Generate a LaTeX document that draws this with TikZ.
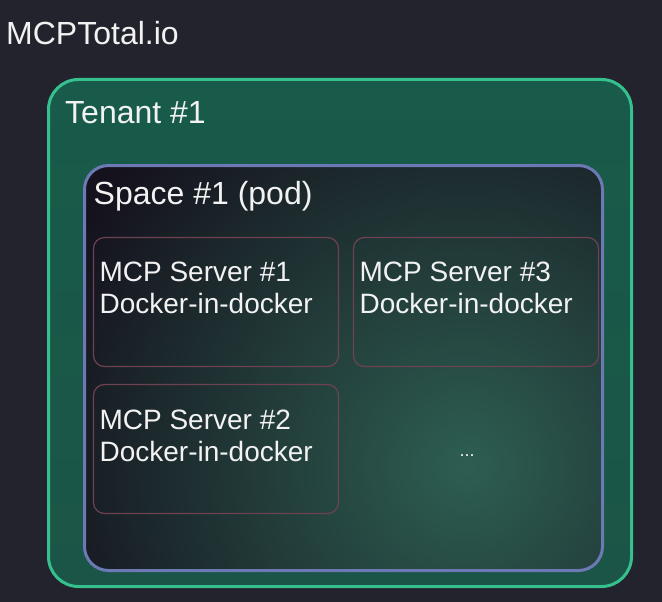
\documentclass[tikz,border=0pt]{standalone}
\usepackage{fontspec}
\setmainfont{Liberation Sans}
\usetikzlibrary{positioning,calc}

\definecolor{bgdark}{HTML}{23232D}
\definecolor{tenantline}{HTML}{36C08D}
\definecolor{tenanttop}{HTML}{185B4A}
\definecolor{tenantbottom}{HTML}{1B5547}
\definecolor{spaceline}{HTML}{6C79B4}
\definecolor{spacefill}{HTML}{15121D}
\definecolor{spaceglow}{HTML}{2D5E51}
\definecolor{serverline}{HTML}{6E4250}
\definecolor{labeltext}{HTML}{F2F2F2}

\begin{document}
\begin{tikzpicture}[
    x=1pt, y=-1pt,
    tenantbox/.style={draw=tenantline, line width=3pt, rounded corners=30pt, top color=tenanttop, bottom color=tenantbottom, minimum width=583pt, minimum height=507pt, inner sep=0pt},
    spacebox/.style={draw=spaceline, line width=3pt, rounded corners=24pt, fill=spacefill, minimum width=518pt, minimum height=405pt, inner sep=0pt,
        path picture={\shade[inner color=spaceglow, outer color=spacefill] ($(path picture bounding box.north west)+(382,300)$) circle (450pt);}},
    serverbox/.style={draw=serverline, line width=1.2pt, rounded corners=11pt, minimum width=245pt, minimum height=129pt, inner sep=0pt},
    boxlabel/.style={text=labeltext, inner sep=0pt, font=\fontsize{32}{36}\selectfont},
    serverlabel/.style={text=labeltext, inner sep=0pt, align=left, font=\fontsize{28}{32}\selectfont}
]

% background
\fill[bgdark] (0,0) rectangle (662,602);
\useasboundingbox (0,0) rectangle (662,602);

% Define node positions
\node[boxlabel, anchor=base west] (title) at (6,45) {MCPTotal.io};
\node[tenantbox] (tenant) at (340,333) {};
\node[boxlabel, anchor=base west] (tenantname) at (65,124) {Tenant \#1};
\node[spacebox] (space) at (343.5,368) {};
\node[boxlabel, anchor=base west] (spacename) at (93.5,204) {Space \#1 (pod)};

\node[serverbox] (s1) at (216,302) {};
\node[serverbox] (s3) at (476,302) {};
\node[serverbox] (s2) at (216,449) {};

% server texts
\node[serverlabel, below right=24.5pt and 6.5pt of s1.north west] (s1text) {MCP Server \#1\\Docker-in-docker};
\node[serverlabel, below right=24.5pt and 6.5pt of s3.north west] (s3text) {MCP Server \#3\\Docker-in-docker};
\node[serverlabel, below right=25.5pt and 6.5pt of s2.north west] (s2text) {MCP Server \#2\\Docker-in-docker};
\node[text=labeltext, inner sep=0pt, anchor=base, font=\fontsize{18}{20}\selectfont] (more) at (467,456) {...};

\end{tikzpicture}
\end{document}
